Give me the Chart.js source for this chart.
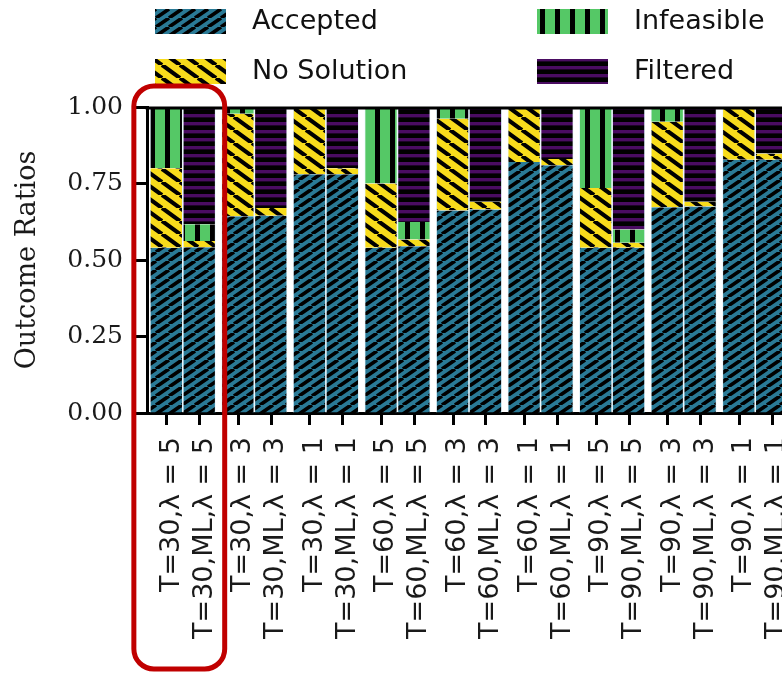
<!DOCTYPE html>
<html>
<head>
<meta charset="utf-8">
<script src="https://cdn.jsdelivr.net/npm/chart.js@4.4.1/dist/chart.umd.min.js"></script>
<style>
  html, body { margin: 0; padding: 0; background: #fff; overflow: hidden; }
  #wrap { width: 782px; height: 677px; overflow: hidden; }
</style>
</head>
<body>
<div id="wrap"><canvas id="outcomes" width="800" height="677"></canvas></div>
<script>
// one group per setting, left bar = plain, right bar = ML
const baseLabels = ['T=30,λ = 5', 'T=30,λ = 3', 'T=30,λ = 1', 'T=60,λ = 5', 'T=60,λ = 3', 'T=60,λ = 1', 'T=90,λ = 5', 'T=90,λ = 3', 'T=90,λ = 1'];
const mlLabels = ['T=30,ML,λ = 5', 'T=30,ML,λ = 3', 'T=30,ML,λ = 1', 'T=60,ML,λ = 5', 'T=60,ML,λ = 3', 'T=60,ML,λ = 1', 'T=90,ML,λ = 5', 'T=90,ML,λ = 3', 'T=90,ML,λ = 1'];
const outcomes = ['Accepted', 'No Solution', 'Infeasible', 'Filtered'];
const yTicks = [0, 0.25, 0.5, 0.75, 1];

const baseAccepted = [0.54, 0.643, 0.78, 0.54, 0.662, 0.82, 0.54, 0.672, 0.828];
const baseNoSolution = [0.26, 0.335, 0.22, 0.21, 0.30, 0.18, 0.195, 0.28, 0.172];
const baseInfeasible = [0.20, 0.022, 0, 0.25, 0.038, 0, 0.265, 0.048, 0];
const baseFiltered = [0, 0, 0, 0, 0, 0, 0, 0, 0];

const mlAccepted = [0.542, 0.645, 0.78, 0.545, 0.665, 0.81, 0.54, 0.675, 0.828];
const mlNoSolution = [0.02, 0.025, 0.02, 0.022, 0.025, 0.02, 0.016, 0.015, 0.02];
const mlInfeasible = [0.055, 0, 0, 0.057, 0, 0, 0.044, 0, 0];
const mlFiltered = [0.383, 0.33, 0.20, 0.376, 0.31, 0.17, 0.40, 0.31, 0.152];

function makePattern(w, h, paint) {
    const c = document.createElement('canvas');
    c.width = w;
    c.height = h;
    const g = c.getContext('2d');
    paint(g, w, h);
    return g.createPattern(c, 'repeat');
}

// slanted hatch on a w x h tile, flip = "\" instead of "/"
function hatch(bg, w, h, lw, flip) {
    return makePattern(w, h, (g) => {
        g.fillStyle = bg;
        g.fillRect(0, 0, w, h);
        g.strokeStyle = '#000';
        g.lineWidth = lw;
        g.beginPath();
        for (let k = -1; k <= 1; k++) {
            if (flip) {
                g.moveTo(k * w, 0);
                g.lineTo(k * w + w, h);
            } else {
                g.moveTo(k * w, h);
                g.lineTo(k * w + w, 0);
            }
        }
        g.stroke();
    });
}

const fills = {
    'Accepted': hatch('#2a7a96', 13, 9, 3.6, false),
    'No Solution': hatch('#f8dc1c', 18, 13, 4.2, true),
    'Infeasible': makePattern(15, 15, (g, w, h) => {
        g.fillStyle = '#55c866';
        g.fillRect(0, 0, w, h);
        g.fillStyle = '#000';
        g.fillRect(0, 0, 5, h);
    }),
    'Filtered': makePattern(8, 8, (g, w, h) => {
        g.fillStyle = '#000';
        g.fillRect(0, 0, w, h);
        g.fillStyle = '#4a0c62';
        g.fillRect(0, 2, w, 3.4);
    })
};

const baseSeries = [baseAccepted, baseNoSolution, baseInfeasible, baseFiltered];
const mlSeries = [mlAccepted, mlNoSolution, mlInfeasible, mlFiltered];

function buildDatasets(series, stack) {
    return outcomes.map((name, i) => ({
        label: name,
        data: series[i],
        stack: stack,
        backgroundColor: fills[name],
        borderColor: '#dcf0fa',
        borderWidth: { left: 0.8, right: 0.8, top: 0, bottom: 0 },
        borderSkipped: false,
        categoryPercentage: 0.92,
        barPercentage: 1.0
    }));
}

const framePlugin = {
    id: 'frame',
    afterDraw(chart) {
        const ctx = chart.ctx;
        const area = chart.chartArea;
        ctx.save();
        ctx.strokeStyle = '#000';
        ctx.lineWidth = 3;
        // top edge of the panel
        ctx.beginPath();
        ctx.moveTo(area.left - 1.5, area.top + 1);
        ctx.lineTo(area.right, area.top + 1);
        ctx.stroke();
        // a tick under every bar
        [0, outcomes.length].forEach(idx => {
            chart.getDatasetMeta(idx).data.forEach(bar => {
                const x = Math.round(bar.x) + 0.5;
                ctx.beginPath();
                ctx.moveTo(x, area.bottom);
                ctx.lineTo(x, area.bottom + 12);
                ctx.stroke();
            });
        });

        // 2x2 legend
        const cols = [155, 537];
        const rows = [21, 71];
        const order = ['Accepted', 'Infeasible', 'No Solution', 'Filtered'];
        ctx.font = '27px "DejaVu Sans"';
        ctx.textBaseline = 'middle';
        order.forEach((name, i) => {
            const x = cols[i % 2];
            const y = rows[Math.floor(i / 2)];
            ctx.fillStyle = fills[name];
            ctx.fillRect(x, y - 12, 71, 25);
            ctx.fillStyle = '#111';
            ctx.fillText(name, x + 97, y + 1);
        });

        // red highlight around the first pair
        const a = chart.getDatasetMeta(0).data[0];
        const b = chart.getDatasetMeta(outcomes.length).data[0];
        const x0 = a.x - a.width / 2 - 16;
        const x1 = b.x + b.width / 2 + 9;
        const y0 = area.top - 21;
        const y1 = chart.height - 8;
        ctx.strokeStyle = '#c00000';
        ctx.lineWidth = 5;
        ctx.beginPath();
        ctx.roundRect(x0, y0, x1 - x0, y1 - y0, 20);
        ctx.stroke();
        ctx.restore();
    }
};

const ctx = document.getElementById('outcomes').getContext('2d');
new Chart(ctx, {
    type: 'bar',
    data: {
        labels: baseLabels.map((l, i) => [l, mlLabels[i]]),
        datasets: buildDatasets(baseSeries, 'plain').concat(buildDatasets(mlSeries, 'ml'))
    },
    options: {
        responsive: false,
        animation: false,
        devicePixelRatio: 1,
        layout: { padding: { top: 107, right: 9, left: 0, bottom: 0 } },
        plugins: {
            legend: { display: false },
            tooltip: { enabled: false }
        },
        scales: {
            x: {
                stacked: true,
                grid: { display: false },
                border: { display: true, color: '#000', width: 3 },
                ticks: {
                    autoSkip: false,
                    maxRotation: 90,
                    minRotation: 90,
                    padding: 16,
                    labelOffset: -11,
                    color: '#1a1a1a',
                    font: { family: 'DejaVu Sans', size: 27, lineHeight: 1.222 }
                },
                afterFit(scale) {
                    scale.height = 264;
                    scale.paddingLeft = 0;
                    scale.paddingRight = 0;
                }
            },
            y: {
                stacked: true,
                min: 0,
                max: 1,
                afterBuildTicks(scale) { scale.ticks = yTicks.map(v => ({ value: v })); },
                grid: { drawOnChartArea: false, drawTicks: true, tickLength: 12, tickWidth: 3, color: '#000' },
                border: { display: true, color: '#000', width: 3 },
                ticks: {
                    padding: 12,
                    color: '#1a1a1a',
                    font: { family: 'DejaVu Serif', size: 25 },
                    callback: v => v.toFixed(2)
                },
                title: {
                    display: true,
                    text: 'Outcome Ratios',
                    color: '#1a1a1a',
                    padding: { top: 12, bottom: 0 },
                    font: { family: 'DejaVu Serif', size: 27 }
                },
                afterFit(scale) { scale.width = 147; }
            }
        }
    },
    plugins: [framePlugin]
});
</script>
</body>
</html>
